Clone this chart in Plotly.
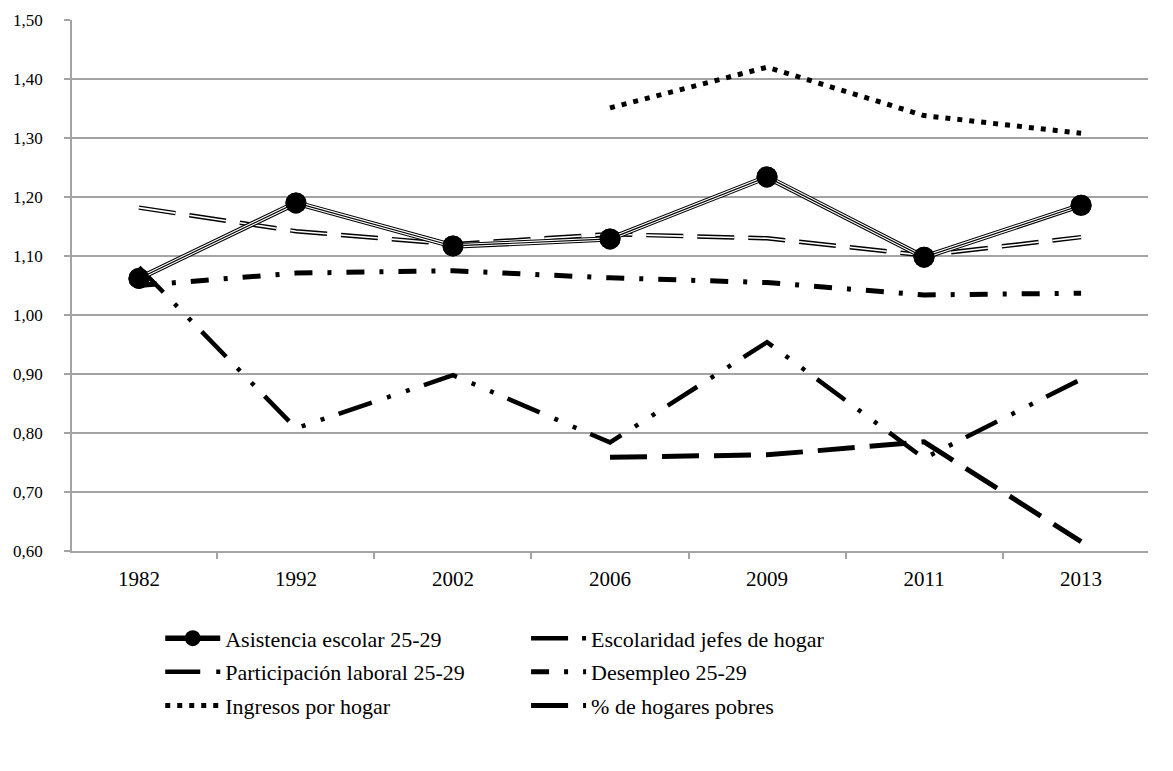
import plotly.graph_objects as go

years = ["1982", "1992", "2002", "2006", "2009", "2011", "2013"]

asistencia = [1.062, 1.190, 1.117, 1.129, 1.234, 1.098, 1.186]
escolaridad = [1.182, 1.142, 1.120, 1.137, 1.130, 1.101, 1.132]
participacion = [1.081, 0.808, 0.898, 0.784, 0.954, 0.757, 0.891]
desempleo = [1.050, 1.071, 1.075, 1.063, 1.055, 1.034, 1.037]
ingresos = [None, None, None, 1.351, 1.420, 1.338, 1.308]
pobres = [None, None, None, 0.759, 0.763, 0.785, 0.616]

y_ticks = [0.6, 0.7, 0.8, 0.9, 1.0, 1.1, 1.2, 1.3, 1.4, 1.5]

FONT = "Liberation Serif, DejaVu Serif, serif"
GRAY = "#a3a3a3"

fig = go.Figure()

def line(y, name, width, dash="solid", color="black", legend=None, rank=None, group=None, show=True):
    fig.add_trace(go.Scatter(
        x=years, y=y, name=name, mode="lines",
        line=dict(color=color, width=width, dash=dash),
        showlegend=show, legend=legend, legendrank=rank, legendgroup=group,
        hoverinfo="skip", connectgaps=False,
    ))

line(ingresos, "Ingresos por hogar", 5, "5px,7px", legend="legend", rank=3, group="g3")
line(participacion, "Participación laboral 25-29", 4.5, "35px,16px,4px,16px,4px,15px",
     legend="legend", rank=2, group="g2")
line(desempleo, "Desempleo 25-29", 5, "18px,15px,4px,15px", legend="legend2", rank=5, group="g5")
line(pobres, "% de hogares pobres", 5, "37px,15px", legend="legend2", rank=6, group="g6")
line(escolaridad, "Escolaridad jefes de hogar", 4.5, "37px,14px", legend="legend2", rank=4, group="g4")
line(escolaridad, "Escolaridad jefes de hogar", 1.6, "37px,14px", color="white", group="g4", show=False)
fig.add_trace(go.Scatter(
    x=years, y=asistencia, name="Asistencia escolar 25-29", mode="lines+markers",
    line=dict(color="black", width=5.5),
    marker=dict(color="black", size=21),
    legend="legend", legendrank=1, legendgroup="g1", hoverinfo="skip",
))
line(asistencia, "Asistencia escolar 25-29", 3.4, color="white", group="g1", show=False)
line(asistencia, "Asistencia escolar 25-29", 1.2, color="black", group="g1", show=False)
fig.add_trace(go.Scatter(
    x=years, y=asistencia, mode="markers", showlegend=False, legendgroup="g1",
    marker=dict(color="black", size=21), hoverinfo="skip",
))

legend_common = dict(
    orientation="v", xanchor="left", yanchor="top",
    font=dict(family=FONT, size=22, color="black"),
    bgcolor="rgba(0,0,0,0)", borderwidth=0,
    itemwidth=55, tracegroupgap=2, itemclick=False, itemdoubleclick=False,
)

fig.update_layout(
    width=1165, height=763,
    margin=dict(l=64, r=25, t=12, b=220, autoexpand=False),
    paper_bgcolor="white", plot_bgcolor="white",
    separators=",.",
    font=dict(family=FONT, color="black"),
    legend=dict(x=0.082, y=-0.125, **legend_common),
    legend2=dict(x=0.422, y=-0.125, **legend_common),
    xaxis=dict(
        type="category", categoryorder="array", categoryarray=years,
        showgrid=False, showline=True, linecolor=GRAY, linewidth=1.5,
        ticks="outside", tickson="boundaries", ticklen=6, tickcolor=GRAY, tickwidth=1.5,
        ticklabelstandoff=8,
        tickfont=dict(family=FONT, size=21, color="black"),
        zeroline=False, fixedrange=True, automargin=False,
    ),
    yaxis=dict(
        range=[0.6, 1.5], tickvals=y_ticks, tickformat=".2f",
        showgrid=True, gridcolor=GRAY, gridwidth=1.5,
        showline=True, linecolor=GRAY, linewidth=1.5,
        ticks="outside", ticklen=6, tickcolor=GRAY, tickwidth=1.5,
        ticklabelstandoff=18,
        tickfont=dict(family=FONT, size=17, color="black"),
        zeroline=False, fixedrange=True, automargin=False,
    ),
)

fig.write_html("out.html")
